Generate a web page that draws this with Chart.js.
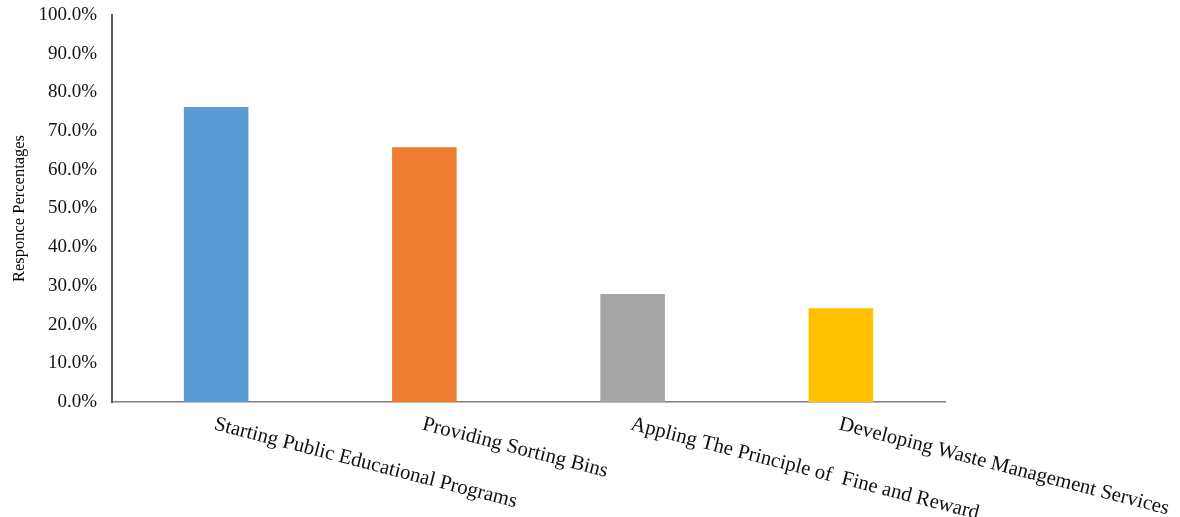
<!DOCTYPE html>
<html>
<head>
<meta charset="utf-8">
<script src="https://cdn.jsdelivr.net/npm/chart.js@4.4.0/dist/chart.umd.min.js"></script>
<style>
html,body{margin:0;padding:0;background:#fff;}
#wrap{width:1180px;height:517px;position:relative;}
</style>
</head>
<body>
<div id="wrap"><canvas id="c" width="1180" height="517"></canvas></div>
<script>
const categories = [
  "Starting Public Educational Programs",
  "Providing Sorting Bins",
  "Appling The Principle of  Fine and Reward",
  "Developing Waste Management Services"
];
const responsePercent = [76.2, 65.8, 27.9, 24.2];
const barColors = ["#5b9bd5", "#ed7d31", "#a5a5a5", "#ffc000"];
const yTickMax = 100;
const yTickStep = 10;
const yTitle = "Responce Percentages";

const FONT = "'Liberation Serif', 'Times New Roman', serif";
const ANGLE = 14.5 * Math.PI / 180;

const slantLabels = {
  id: 'slantLabels',
  afterDraw(chart) {
    const ctx = chart.ctx;
    const xs = chart.scales.x;
    ctx.save();
    ctx.font = "20.7px " + FONT;
    ctx.fillStyle = "#111";
    ctx.textAlign = "left";
    ctx.textBaseline = "top";
    categories.forEach((lab, i) => {
      const x = xs.getPixelForTick(i) + 1;
      const y = xs.top + 12;
      ctx.save();
      ctx.translate(x, y);
      ctx.rotate(ANGLE);
      ctx.fillText(lab, 0, 0);
      ctx.restore();
    });
    ctx.restore();
  }
};

new Chart(document.getElementById('c'), {
  type: 'bar',
  data: {
    labels: categories,
    datasets: [{
      data: responsePercent,
      backgroundColor: barColors,
      borderWidth: 0,
      categoryPercentage: 1.0,
      barPercentage: 0.31
    }]
  },
  options: {
    responsive: false,
    animation: false,
    devicePixelRatio: 1,
    layout: { padding: { top: 15, right: 235, bottom: 0, left: 0 } },
    plugins: { legend: { display: false }, tooltip: { enabled: false } },
    scales: {
      x: {
        grid: { display: false },
        border: { display: true, color: '#7f7f7f', width: 1.5 },
        ticks: { display: false },
        afterFit(s) { s.height = 115; s.paddingLeft = 0; s.paddingRight = 0; }
      },
      y: {
        min: 0,
        max: yTickMax,
        afterFit(s) { s.width = 112; s.paddingTop = 0; s.paddingBottom = 0; },
        grid: { display: false },
        border: { display: true, color: '#595959', width: 2 },
        ticks: {
          stepSize: yTickStep,
          padding: 7,
          color: '#111',
          font: { family: FONT, size: 19 },
          callback: v => v.toFixed(1) + '%'
        },
        title: {
          display: true,
          text: yTitle,
          color: '#000',
          font: { family: FONT, size: 16.5 },
          padding: { top: 10, bottom: 0 }
        }
      }
    }
  },
  plugins: [slantLabels]
});
</script>
</body>
</html>
